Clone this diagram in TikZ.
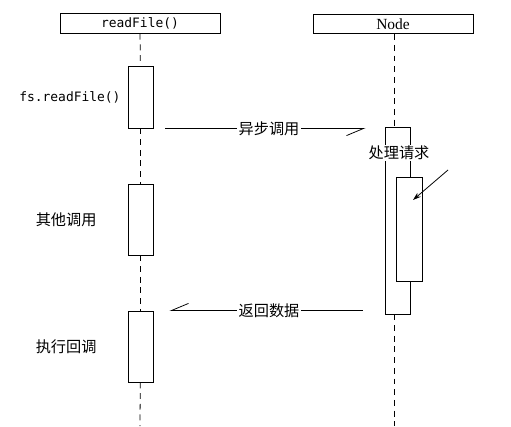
\documentclass[tikz,border=0pt]{standalone}
\usepackage{fontspec}
\setmainfont{Liberation Serif}
\setmonofont{DejaVu Sans Mono}
\newfontfamily\cjk{Noto Sans CJK SC}
\usetikzlibrary{positioning,arrows.meta}
\newcommand{\code}[1]{\texttt{#1}}

\begin{document}
\begin{tikzpicture}[
  x=0.025cm, y=-0.025cm, line width=0.55pt,
  head/.style={draw, minimum width=4cm, minimum height=0.49cm, inner sep=0pt},
  act/.style={draw, fill=white, minimum width=0.625cm, inner sep=0pt},
  life/.style={dash pattern=on 4.2pt off 3.4pt},
  msg/.style={-{Straight Barb[right, length=0.43cm, width=0.36cm]}},
  lbl/.style={font=\cjk\fontsize{10.8}{13}\selectfont},
  mono/.style={font=\fontsize{9.2}{11}\selectfont\ttfamily},
]
\useasboundingbox (0,0) rectangle (511,426);
% lifeline heads
\node[head, mono] (hdrL) at (140,23.5) {readFile()};
\node[head, font=\fontsize{11}{13}\selectfont] (hdrR) at (393,24) {Node};
% activations
\node[act, minimum height=1.55cm] (actA) at (140.5,97) {};
\node[act, minimum height=1.775cm] (actB) at (140.5,219.5) {};
\node[act, minimum height=1.775cm] (actC) at (140.5,346.5) {};
\node[act, minimum height=4.675cm] (nodeAct) at (397.5,220.5) {};
\node[act, minimum width=0.65cm, minimum height=2.6cm] (inner) at (409,229) {};
\coordinate (endL) at (140,426);
\coordinate (endR) at (394,426);
% lifelines
\draw[life] (hdrL) -- (actA);
\draw[life] (actA) -- (actB);
\draw[life] (actB) -- (actC);
\draw[life] (actC) -- (endL);
\draw[life] (hdrR.south -| endR) -- (nodeAct.north -| endR);
\draw[life] (nodeAct.south -| endR) -- (endR);
% side labels
\node[mono, left=0.05cm of actA] (lblA) {fs.readFile()};
\node[lbl, left=0.65cm of actB] (lblB) {其他调用};
\node[lbl, left=0.65cm of actC] (lblC) {执行回调};
\node[lbl, fill=white, inner sep=1pt] (lblN) at (399,153) {处理请求};
% messages
\draw[msg, shorten <=0.3cm, shorten >=0.475cm] (actA.south east) --
  node[lbl, fill=white, inner sep=1pt]{异步调用} (actA.south east -| nodeAct.west);
\draw[msg, shorten <=0.55cm, shorten >=0.4cm] (nodeAct.west |- actC.north) --
  node[lbl, fill=white, inner sep=1pt]{返回数据} (actC.north east);
\coordinate (reqFrom) at (448,170);
\coordinate (reqTo) at (413,200);
\draw[-{Stealth[length=0.2cm, width=0.13cm]}] (reqFrom) -- (reqTo);
\end{tikzpicture}
\end{document}
